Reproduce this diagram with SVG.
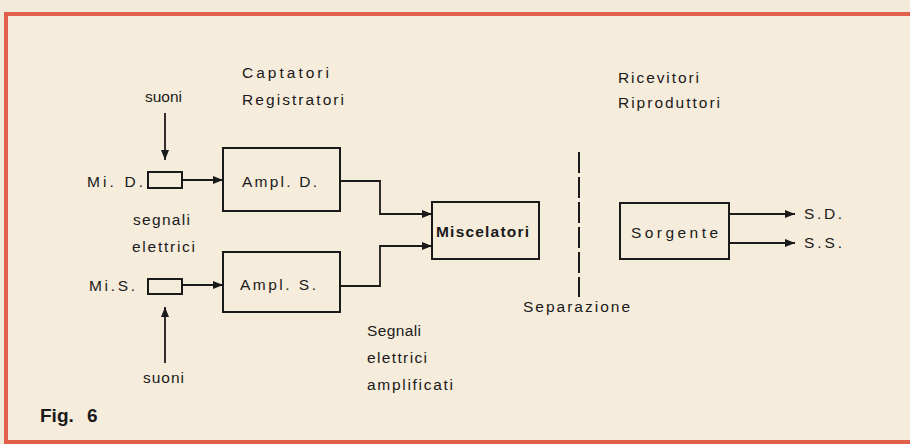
<svg xmlns="http://www.w3.org/2000/svg" width="910" height="444" viewBox="0 0 910 444">
<defs>
<style>
.t{font-family:"Liberation Sans",Arial,sans-serif;font-size:15.5px;fill:#1a1a1a}
.b{fill:none;stroke:#1a1a1a;stroke-width:2}
.c{fill:none;stroke:#1a1a1a;stroke-width:1.8}
.fig{font-family:"Liberation Sans",Arial,sans-serif;font-size:19px;font-weight:bold;fill:#1a1a1a}
</style>
<marker id="ah" viewBox="0 0 10 8" refX="10" refY="4" markerWidth="10" markerHeight="8" markerUnits="userSpaceOnUse" orient="auto">
<path d="M0,0 L10,4 L0,8 Z" fill="#1a1a1a"/>
</marker>
</defs>
<rect x="0" y="0" width="910" height="444" fill="#f4ead9"/>
<rect x="6" y="14" width="910" height="428" fill="#f6ecdc" stroke="#e2604b" stroke-width="4"/>

<g id="micD">
<rect class="b" x="148" y="172" width="34" height="16"/>
<text class="t" x="87" y="187" textLength="56" lengthAdjust="spacing">Mi. D.</text>
</g>
<g id="micS">
<rect class="b" x="148" y="279" width="34" height="15"/>
<text class="t" x="89" y="291" textLength="46" lengthAdjust="spacing">Mi.S.</text>
</g>
<g id="amplD">
<rect class="b" x="223" y="148" width="117" height="63"/>
<text class="t" x="242" y="187" textLength="75" lengthAdjust="spacing">Ampl. D.</text>
</g>
<g id="amplS">
<rect class="b" x="223" y="252" width="117" height="60"/>
<text class="t" x="240" y="290" textLength="76" lengthAdjust="spacing">Ampl. S.</text>
</g>
<g id="miscelatori">
<rect class="b" x="432" y="202" width="107" height="57"/>
<text class="t" x="436" y="237" textLength="93" lengthAdjust="spacing" style="font-weight:bold">Miscelatori</text>
</g>
<g id="sorgente">
<rect class="b" x="620" y="203" width="109" height="56"/>
<text class="t" x="631" y="238" textLength="87" lengthAdjust="spacing">Sorgente</text>
</g>

<g id="connectors">
<line class="c" x1="165" y1="113" x2="165" y2="160" marker-end="url(#ah)"/>
<line class="c" x1="165" y1="363" x2="165" y2="307" marker-end="url(#ah)"/>
<line class="c" x1="182" y1="180" x2="223" y2="180" marker-end="url(#ah)"/>
<line class="c" x1="182" y1="285" x2="223" y2="285" marker-end="url(#ah)"/>
<polyline class="c" points="340,181 380,181 380,214 432,214" marker-end="url(#ah)"/>
<polyline class="c" points="340,286 380,286 380,246 432,246" marker-end="url(#ah)"/>
<line class="c" x1="729" y1="214" x2="795" y2="214" marker-end="url(#ah)"/>
<line class="c" x1="729" y1="243" x2="795" y2="243" marker-end="url(#ah)"/>
<line x1="579" y1="152" x2="579" y2="297" stroke="#1a1a1a" stroke-width="2" stroke-dasharray="21 4"/>
</g>

<g id="labels">
<text class="t" x="145" y="102" textLength="37" lengthAdjust="spacing">suoni</text>
<text class="t" x="143" y="383" textLength="41" lengthAdjust="spacing">suoni</text>
<text class="t" x="242" y="78" textLength="87" lengthAdjust="spacing">Captatori</text>
<text class="t" x="242" y="105" textLength="102" lengthAdjust="spacing">Registratori</text>
<text class="t" x="618" y="83" textLength="81" lengthAdjust="spacing">Ricevitori</text>
<text class="t" x="618" y="108" textLength="102" lengthAdjust="spacing">Riproduttori</text>
<text class="t" x="133" y="225" textLength="57" lengthAdjust="spacing">segnali</text>
<text class="t" x="132" y="252" textLength="63" lengthAdjust="spacing">elettrici</text>
<text class="t" x="804" y="219" textLength="38" lengthAdjust="spacing">S.D.</text>
<text class="t" x="804" y="248" textLength="38" lengthAdjust="spacing">S.S.</text>
<text class="t" x="523" y="312" textLength="107" lengthAdjust="spacing">Separazione</text>
<text class="t" x="367" y="336" textLength="54" lengthAdjust="spacing">Segnali</text>
<text class="t" x="367" y="363" textLength="60" lengthAdjust="spacing">elettrici</text>
<text class="t" x="367" y="390" textLength="86" lengthAdjust="spacing">amplificati</text>
<text class="fig" x="40" y="422">Fig.</text>
<text class="fig" x="87" y="422">6</text>
</g>
</svg>
